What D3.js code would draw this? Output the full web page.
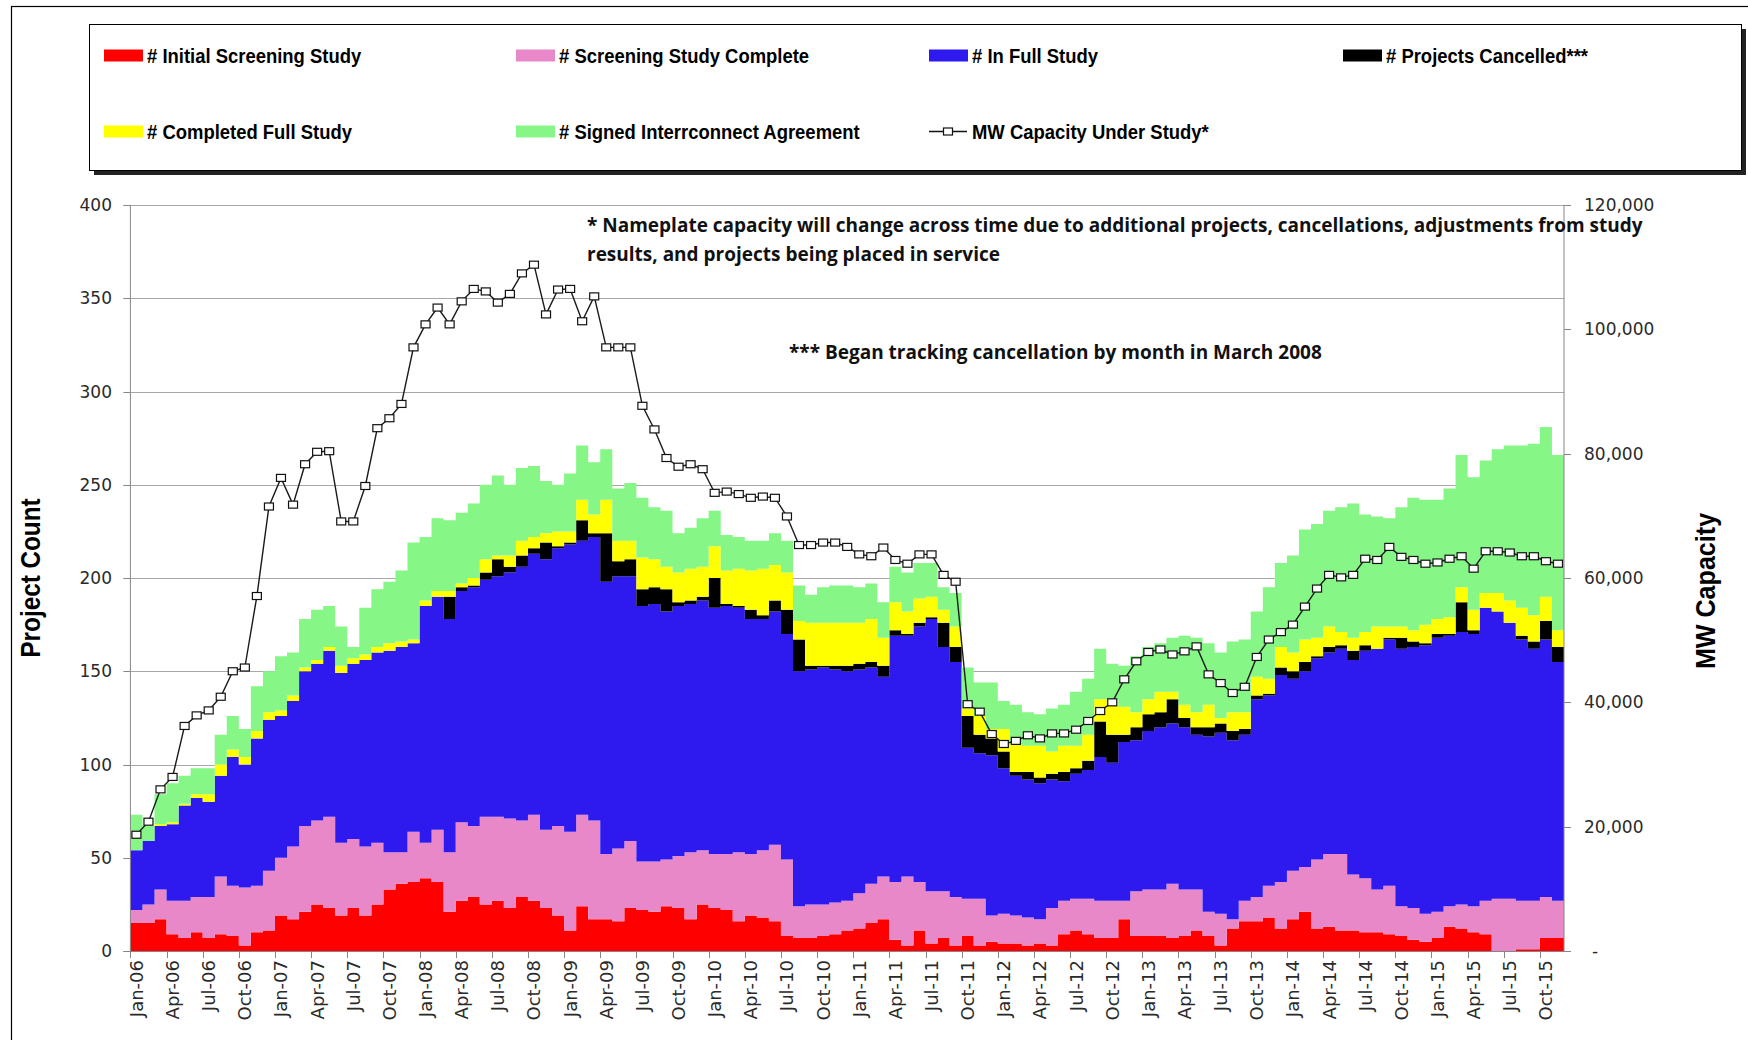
<!DOCTYPE html>
<html>
<head>
<meta charset="utf-8">
<script src="https://cdn.jsdelivr.net/npm/d3@7"></script>
<style>
body { margin: 0; background: #fff; }
svg { display: block; }
</style>
</head>
<body>
<div id="chart"></div>
<script>
// monthly counts, Jan-06 .. Nov-15
var initialScreening = [
    15,15,17,9,7,10,7,9,8,3,10,11,19,17,21,25,23,19,23,19,
    25,33,36,37,39,37,21,27,29,25,27,23,29,27,23,19,11,24,17,17,
    16,23,22,21,24,23,17,25,23,22,16,19,18,16,8,7,7,8,9,11,
    12,15,17,6,3,11,4,7,3,8,3,5,4,4,3,4,3,9,11,9,
    7,7,17,8,8,8,7,8,11,8,3,12,16,16,18,12,17,21,12,13,
    11,11,10,10,9,8,6,5,7,13,12,10,9,0,0,1,1,7,7];
var screeningComplete = [
    7,10,16,18,20,19,22,31,27,31,25,32,31,39,46,45,49,39,37,37,
    33,20,17,27,19,28,32,42,38,47,45,48,41,46,42,48,53,49,53,35,
    39,36,26,27,25,28,36,29,29,30,37,33,36,41,41,17,18,17,17,16,
    19,21,23,31,37,26,28,25,26,20,25,14,16,15,15,13,20,18,17,19,
    20,20,10,24,25,25,29,25,22,13,17,5,11,13,17,25,26,24,37,39,
    41,30,29,23,26,16,17,15,14,11,13,14,18,28,28,26,26,22,20];
var inFullStudy = [
    32,34,34,41,51,53,51,54,69,66,79,81,76,78,83,84,89,91,94,100,
    102,108,110,101,127,125,125,124,128,127,129,132,136,140,145,149,154,147,152,146,
    146,142,137,138,133,134,133,134,132,133,131,126,124,125,121,126,126,127,125,123,
    120,116,107,132,129,137,146,131,126,81,78,86,78,75,74,73,69,64,67,69,
    77,74,85,81,85,87,86,87,83,94,97,96,89,106,102,111,103,105,108,108,
    110,115,122,129,132,138,140,144,147,145,146,146,157,154,148,140,135,138,128];
var cancelled = [
    0,0,0,0,0,0,0,0,0,0,0,0,0,0,0,0,0,0,0,0,
    0,0,0,0,0,0,12,2,1,4,9,3,6,3,9,1,1,11,2,26,
    8,9,9,9,12,2,2,2,16,1,1,5,2,6,13,17,2,1,2,3,
    3,3,6,3,1,2,1,13,8,17,10,9,9,2,4,3,3,5,3,5,
    19,15,4,7,9,8,13,5,4,5,5,5,3,2,1,4,4,5,1,3,
    2,5,3,0,1,6,3,1,2,1,16,2,0,0,0,2,4,10,8];
var completedFull = [
    0,0,1,1,1,2,4,6,4,4,4,4,3,3,2,2,2,4,3,3,
    3,4,3,2,3,3,3,2,4,7,2,6,8,6,5,8,6,11,10,18,
    11,10,17,15,12,16,17,16,17,18,20,21,25,19,20,10,23,23,23,23,
    22,23,15,15,12,13,11,7,11,4,10,5,12,15,14,17,12,14,12,14,
    12,19,15,8,8,11,4,7,8,12,3,10,9,10,8,11,10,12,10,11,
    7,7,7,12,6,6,6,10,8,9,8,11,8,10,12,15,14,13,9];
var signedIA = [
    19,8,16,21,15,14,14,16,18,15,24,22,29,23,26,27,22,21,6,25,
    31,33,38,52,34,39,38,38,40,40,43,38,39,38,28,25,31,29,28,27,
    28,31,32,28,30,21,22,26,19,19,17,16,15,17,17,19,15,19,20,20,
    19,19,19,19,21,19,18,12,18,22,18,25,15,21,18,17,23,22,29,30,
    27,19,22,30,28,26,29,37,40,33,35,38,39,35,49,45,52,59,61,62,
    67,72,63,59,58,64,71,67,64,69,71,71,71,77,83,87,92,91,94];
var mwCapacity = [
    18700,20800,26000,28000,36200,37900,38700,40900,45000,45600,57100,71500,76100,71800,78300,80300,80400,69100,69100,74800,
    84100,85700,88000,97100,100800,103500,100800,104500,106500,106100,104300,105700,109000,110400,102400,106400,106500,101300,105300,97100,
    97100,97100,87700,83900,79300,77900,78300,77500,73700,73900,73500,72900,73100,72900,69900,65300,65300,65700,65700,65000,
    63800,63500,64900,62900,62300,63800,63800,60500,59400,39700,38500,34900,33300,33800,34700,34200,35000,35000,35600,37000,
    38600,40000,43700,46600,48100,48500,47700,48200,49000,44500,43100,41500,42500,47300,50100,51300,52500,55400,58300,60500,
    60100,60500,63100,62900,65000,63400,62900,62300,62500,63100,63500,61500,64300,64300,64100,63500,63500,62700,62300];

var seriesKeys = ["initial", "screening", "full", "cancelled", "completed", "signed"];
var seriesNames = ["# Initial Screening Study", "# Screening Study Complete", "# In Full Study",
    "# Projects Cancelled***", "# Completed Full Study", "# Signed Interrconnect Agreement"];
var seriesColors = ["#ff0000", "#e888c8", "#2e1aee", "#000000", "#ffff00", "#86f686"];
var leftTicks = [0, 50, 100, 150, 200, 250, 300, 350, 400];
var rightTicks = [0, 20000, 40000, 60000, 80000, 100000, 120000];
var noteLines = ["* Nameplate capacity will change across time due to additional projects, cancellations, adjustments from study",
    "results, and projects being placed in service"];
var cancelNote = "*** Began tracking cancellation by month in March 2008";

var months = d3.timeMonth.range(new Date(2006, 0, 1), new Date(2015, 11, 1));
var fmtMonth = d3.timeFormat("%b-%y");

var rows = months.map(function (m, i) {
    return {
        i: i,
        initial: initialScreening[i],
        screening: screeningComplete[i],
        full: inFullStudy[i],
        cancelled: cancelled[i],
        completed: completedFull[i],
        signed: signedIA[i],
        mw: mwCapacity[i]
    };
});

var width = 1748, height = 1040;
var plot = { left: 130.4, right: 1564, top: 205, bottom: 951 };

var svg = d3.select("#chart").append("svg")
    .attr("width", width)
    .attr("height", height)
    .style("font-family", "'DejaVu Sans', Verdana, sans-serif");

// outer frame
svg.append("rect")
    .attr("x", 11.5).attr("y", 6.5)
    .attr("width", width + 20).attr("height", height + 20)
    .attr("fill", "none").attr("stroke", "#000").attr("stroke-width", 1.2);

var x = d3.scaleBand()
    .domain(rows.map(function (d) { return d.i; }))
    .range([plot.left, plot.right])
    .padding(0);
var bw = x.bandwidth();
var yL = d3.scaleLinear().domain([0, 400]).range([plot.bottom, plot.top]);
var yR = d3.scaleLinear().domain([0, 120000]).range([plot.bottom, plot.top]);

// gridlines
svg.append("g").selectAll("line")
    .data(leftTicks.filter(function (t) { return t > 0; }))
  .enter().append("line")
    .attr("x1", plot.left).attr("x2", plot.right)
    .attr("y1", function (d) { return Math.round(yL(d)) + 0.5; })
    .attr("y2", function (d) { return Math.round(yL(d)) + 0.5; })
    .attr("stroke", "#a8a8a8").attr("stroke-width", 1);

// stacked step areas (columns with no gap)
var stack = d3.stack().keys(seriesKeys);
var layers = stack(rows);
var area = d3.area()
    .x(function (p) { return p.x; })
    .y0(function (p) { return yL(p.d[0]); })
    .y1(function (p) { return yL(p.d[1]); });

svg.append("g").selectAll("path")
    .data(layers)
  .enter().append("path")
    .attr("fill", function (d, k) { return seriesColors[k]; })
    .attr("d", function (layer) {
        var pts = [];
        layer.forEach(function (d, i) {
            pts.push({ x: x(i), d: d });
            pts.push({ x: x(i) + bw, d: d });
        });
        return area(pts);
    });

// axes
var axisColor = "#868686";
var tickColor = "#2a2a2a";

svg.append("line")
    .attr("x1", plot.left).attr("x2", plot.left)
    .attr("y1", plot.top).attr("y2", plot.bottom)
    .attr("stroke", axisColor);
svg.append("line")
    .attr("x1", plot.right).attr("x2", plot.right)
    .attr("y1", plot.top).attr("y2", plot.bottom)
    .attr("stroke", axisColor);
svg.append("line")
    .attr("x1", plot.left - 7).attr("x2", plot.right)
    .attr("y1", plot.bottom + 0.5).attr("y2", plot.bottom + 0.5)
    .attr("stroke", axisColor);

var gl = svg.append("g");
gl.selectAll("line").data(leftTicks).enter().append("line")
    .attr("x1", plot.left - 7).attr("x2", plot.left)
    .attr("y1", function (d) { return Math.round(yL(d)) + 0.5; })
    .attr("y2", function (d) { return Math.round(yL(d)) + 0.5; })
    .attr("stroke", axisColor);
gl.selectAll("text").data(leftTicks).enter().append("text")
    .attr("x", 112)
    .attr("y", function (d) { return yL(d); })
    .attr("dy", "0.36em")
    .attr("text-anchor", "end")
    .attr("font-size", 17)
    .attr("fill", tickColor)
    .text(function (d) { return d; });

var gr = svg.append("g");
gr.selectAll("line").data(rightTicks).enter().append("line")
    .attr("x1", plot.right).attr("x2", plot.right + 7)
    .attr("y1", function (d) { return Math.round(yR(d)) + 0.5; })
    .attr("y2", function (d) { return Math.round(yR(d)) + 0.5; })
    .attr("stroke", axisColor);
gr.selectAll("text").data(rightTicks).enter().append("text")
    .attr("x", function (d) { return d == 0 ? 1592 : 1584; })
    .attr("y", function (d) { return yR(d); })
    .attr("dy", "0.36em")
    .attr("font-size", 17)
    .attr("fill", tickColor)
    .text(function (d) { return d == 0 ? "-" : d3.format(",")(d); });

// x axis: ticks every quarter, labels centred on the month
var quarters = rows.filter(function (d) { return d.i % 3 == 0; });
var gx = svg.append("g");
gx.selectAll("line").data(quarters).enter().append("line")
    .attr("x1", function (d) { return Math.round(x(d.i)) + 0.5; })
    .attr("x2", function (d) { return Math.round(x(d.i)) + 0.5; })
    .attr("y1", plot.bottom).attr("y2", plot.bottom + 7)
    .attr("stroke", axisColor);
gx.selectAll("text").data(quarters).enter().append("text")
    .attr("transform", function (d) {
        return "translate(" + (x(d.i) + bw / 2) + "," + (plot.bottom + 9) + ") rotate(-90)";
    })
    .attr("dy", "0.36em")
    .attr("text-anchor", "end")
    .attr("font-size", 18)
    .attr("fill", tickColor)
    .text(function (d) { return fmtMonth(months[d.i]); });

// MW line with square markers
var line = d3.line()
    .x(function (d) { return x(d.i) + bw / 2; })
    .y(function (d) { return yR(d.mw); });
svg.append("path")
    .datum(rows)
    .attr("fill", "none")
    .attr("stroke", "#1a1a1a")
    .attr("stroke-width", 1.4)
    .attr("d", line);
svg.append("g").selectAll("rect")
    .data(rows)
  .enter().append("rect")
    .attr("x", function (d) { return x(d.i) + bw / 2 - 4.5; })
    .attr("y", function (d) { return yR(d.mw) - 3.5; })
    .attr("width", 9).attr("height", 7)
    .attr("fill", "#fff").attr("stroke", "#111").attr("stroke-width", 1.2);

// notes
var noteFont = "'Open Sans', 'DejaVu Sans', sans-serif";
svg.append("g").selectAll("text")
    .data(noteLines)
  .enter().append("text")
    .attr("x", 587)
    .attr("y", function (d, i) { return 232 + i * 29; })
    .attr("font-family", noteFont)
    .attr("font-weight", "bold")
    .attr("font-size", 19)
    .attr("fill", "#111")
    .text(function (d) { return d; });
svg.append("text")
    .attr("x", 789).attr("y", 359)
    .attr("font-family", noteFont)
    .attr("font-weight", "bold")
    .attr("font-size", 19)
    .attr("fill", "#111")
    .text(cancelNote);

// axis titles, squeezed to look like a condensed face
var titleFont = "'Liberation Sans Narrow', 'Arial Narrow', 'Liberation Sans', sans-serif";
svg.append("text")
    .attr("transform", "translate(31,578) rotate(-90) scale(0.9,1)")
    .attr("dy", "0.35em")
    .attr("text-anchor", "middle")
    .attr("font-family", titleFont)
    .attr("font-weight", "bold")
    .attr("font-size", 27)
    .text("Project Count");
svg.append("text")
    .attr("transform", "translate(1706,591) rotate(-90) scale(0.93,1)")
    .attr("dy", "0.35em")
    .attr("text-anchor", "middle")
    .attr("font-family", titleFont)
    .attr("font-weight", "bold")
    .attr("font-size", 27)
    .text("MW Capacity");

// legend box
var legend = svg.append("g");
legend.append("rect")
    .attr("x", 94).attr("y", 29)
    .attr("width", 1652).attr("height", 146)
    .attr("fill", "#222");
legend.append("rect")
    .attr("x", 89.5).attr("y", 24.5)
    .attr("width", 1652).attr("height", 146)
    .attr("fill", "#fff").attr("stroke", "#000").attr("stroke-width", 1);

var legendX = [104, 516, 929, 1343];
var legendY = [55.5, 131.5];
var items = seriesKeys.map(function (k, i) {
    return { name: seriesNames[i], color: seriesColors[i], col: i % 4, row: Math.floor(i / 4) };
});
var li = legend.selectAll(".item")
    .data(items)
  .enter().append("g")
    .attr("class", "item")
    .attr("transform", function (d) {
        return "translate(" + legendX[d.col] + "," + legendY[d.row] + ")";
    });
li.append("rect")
    .attr("x", 0).attr("y", -6)
    .attr("width", 39).attr("height", 12)
    .attr("fill", function (d) { return d.color; });
li.append("text")
    .attr("transform", "translate(43,0) scale(0.9,1)")
    .attr("dy", "0.35em")
    .attr("font-family", titleFont)
    .attr("font-weight", "bold")
    .attr("font-size", 20.5)
    .text(function (d) { return d.name; });

var lm = legend.append("g").attr("transform", "translate(929," + legendY[1] + ")");
lm.append("line").attr("x1", 0).attr("x2", 38).attr("y1", 0).attr("y2", 0)
    .attr("stroke", "#111").attr("stroke-width", 1.4);
lm.append("rect").attr("x", 14.5).attr("y", -3.5).attr("width", 9).attr("height", 7)
    .attr("fill", "#fff").attr("stroke", "#111").attr("stroke-width", 1.2);
lm.append("text")
    .attr("transform", "translate(43,0) scale(0.9,1)")
    .attr("dy", "0.35em")
    .attr("font-family", titleFont)
    .attr("font-weight", "bold")
    .attr("font-size", 20.5)
    .text("MW Capacity Under Study*");
</script>
</body>
</html>
